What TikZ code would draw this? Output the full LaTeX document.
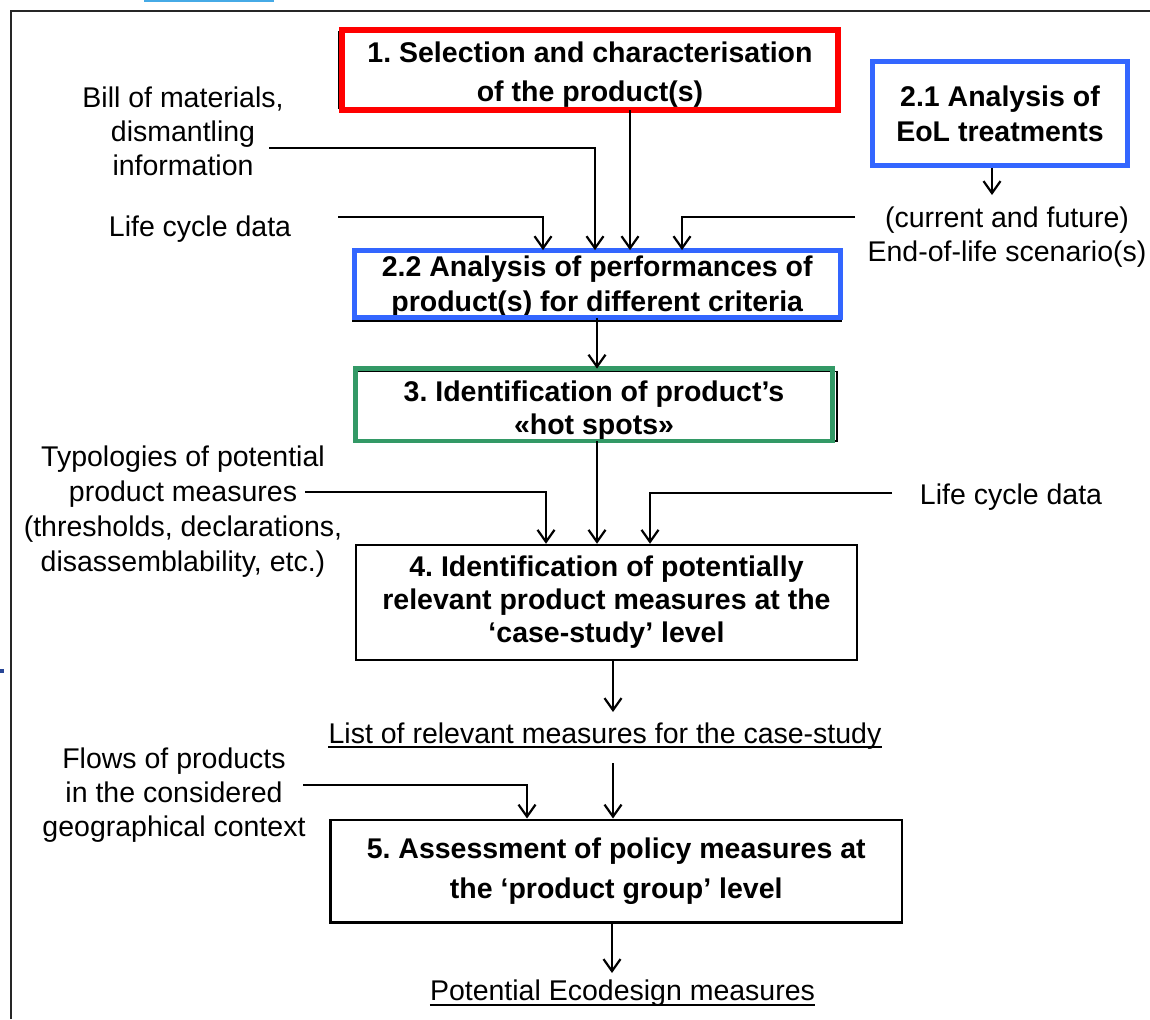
\documentclass[tikz,border=0pt]{standalone}
\usepackage{fontspec}
\setmainfont{Liberation Sans}
\usetikzlibrary{arrows.meta}
\frenchspacing
\definecolor{boxred}{RGB}{255,0,0}
\definecolor{boxblue}{RGB}{51,102,255}
\definecolor{boxgreen}{RGB}{51,153,102}
\definecolor{topblue}{RGB}{70,170,230}
\definecolor{markblue}{RGB}{40,70,150}
\begin{document}
\begin{tikzpicture}[x=1pt,y=-1pt,
  lbl/.style={inner sep=0pt, align=center, font=\fontsize{28.5}{34}\selectfont},
  bx/.style={rectangle, inner sep=0pt, align=center},
  arr/.style={-{Straight Barb[length=12pt,width=17pt]}, line width=2.2pt},
  shadowline/.style={line width=1.5pt, black},
  plainline/.style={line width=2pt}]
\useasboundingbox (0,0) rectangle (1150,1019);
\fill[white] (0,0) rectangle (1150,1019);

% frame and cropped remnants
\fill[topblue] (144,0) rectangle (274,2);
\fill[markblue] (0,669) rectangle (4,673);
\draw[line width=2pt, black!85] (11,1019) -- (11,11) -- (1150,11);

% boxes
\node[bx, minimum width=496pt, minimum height=80pt,
      font=\bfseries\fontsize{28.5}{39}\selectfont] (b1) at (590,70)
  {\rule{0pt}{30.5pt}1. Selection and characterisation\\of the product(s)};
\draw[shadowline] ([xshift=-3.5pt,yshift=2pt]b1.south west) rectangle ([yshift=-2pt]b1.north east);
\draw[boxred, line width=5.5pt] (b1.south west) rectangle (b1.north east);

\node[bx, draw=boxblue, line width=5pt, minimum width=255pt, minimum height=104pt,
      font=\bfseries\fontsize{28.5}{35}\selectfont] (b21) at (1000,113.5)
  {2.1 Analysis of\\EoL treatments};

\node[bx, minimum width=485.5pt, minimum height=67pt,
      font=\bfseries\fontsize{28.5}{35}\selectfont] (b22) at (597.25,284)
  {\rule{0pt}{26.5pt}2.2 Analysis of performances of\\product(s) for different criteria};
\draw[shadowline] ([xshift=-2pt,yshift=-3pt]b22.south west) rectangle ([xshift=1pt,yshift=-2pt]b22.north east);
\draw[boxblue, line width=5pt] (b22.south west) rectangle (b22.north east);

\node[bx, minimum width=477pt, minimum height=71.5pt,
      font=\bfseries\fontsize{28.5}{33}\selectfont] (b3) at (594,404.75)
  {\rule{0pt}{33pt}3. Identification of product’s\\«hot spots»};
\draw[shadowline] ([xshift=1pt]b3.south west) rectangle ([xshift=4.5pt,yshift=-3pt]b3.north east);
\draw[boxgreen, line width=4.5pt] (b3.south west) rectangle (b3.north east);

\node[bx, draw, line width=2.5pt, minimum width=501pt, minimum height=115pt,
      font=\bfseries\fontsize{28.5}{33}\selectfont] (b4) at (606.5,602.5)
  {4. Identification of potentially\\relevant product measures at the\\‘case-study’ level};

\node[bx, draw, line width=2.5pt, minimum width=571.5pt, minimum height=102.5pt,
      font=\bfseries\fontsize{28.5}{40}\selectfont] (b5) at (616.25,871)
  {5. Assessment of policy measures at\\the ‘product group’ level};

% labels
\node[lbl] (bill) at (183,131) {Bill of materials,\\dismantling\\information};
\node[lbl, anchor=base] (lcda) at (200,236) {Life cycle data};
\node[lbl] (eol) at (1007,237.5) {(current and future)\\End-of-life scenario(s)};
\node[lbl, font=\fontsize{28.5}{35}\selectfont] (typ) at (183,512)
  {Typologies of potential\\product measures\\(thresholds, declarations,\\disassemblability, etc.)};
\node[lbl, anchor=base] (lcdb) at (1011,504) {Life cycle data};
\node[lbl, anchor=base] (lst) at (605,743) {List of relevant measures for the case-study};
\draw[line width=1.5pt] ([yshift=-4pt]lst.base west) -- ([yshift=-4pt]lst.base east);
\node[lbl] (flows) at (174,795) {Flows of products\\in the considered\\geographical context};
\node[lbl, anchor=base] (pot) at (622.5,1000) {Potential Ecodesign measures};
\draw[line width=1.5pt] ([yshift=-5pt]pot.base west) -- ([yshift=-5pt]pot.base east);

% free connector ends
\coordinate (billout) at (269,148);
\coordinate (lcdout) at (338,217);
\coordinate (eolout) at (855,217);
\coordinate (eolin) at (992,195);
\coordinate (typout) at (305,492);
\coordinate (lcdbout) at (892,493);
\coordinate (lstin) at (613,712);
\coordinate (lstout) at (613,763);
\coordinate (flowout) at (303,785);
\coordinate (potin) at (612,973);

% connectors
\draw[arr] (630,0 |- b1.south) -- (630,0 |- b22.north);
\draw[arr] (lcdout) -| (543,0 |- b22.north);
\draw[arr] (billout) -| (595,0 |- b22.north);
\draw[arr] (eolout) -| (682,0 |- b22.north);
\draw[arr] (992,0 |- b21.south) -- (eolin);
\draw[arr] (597,0 |- b22.south) -- (597,0 |- b3.north);
\draw[arr] (597,0 |- b3.south) -- (597,0 |- b4.north);
\draw[arr] (typout) -| (546,0 |- b4.north);
\draw[arr] (lcdbout) -| (650,0 |- b4.north);
\draw[arr] (613,0 |- b4.south) -- (lstin);
\draw[arr] (lstout) -- (613,0 |- b5.north);
\draw[arr] (flowout) -| (527,0 |- b5.north);
\draw[arr] (612,0 |- b5.south) -- (potin);
\end{tikzpicture}
\end{document}
